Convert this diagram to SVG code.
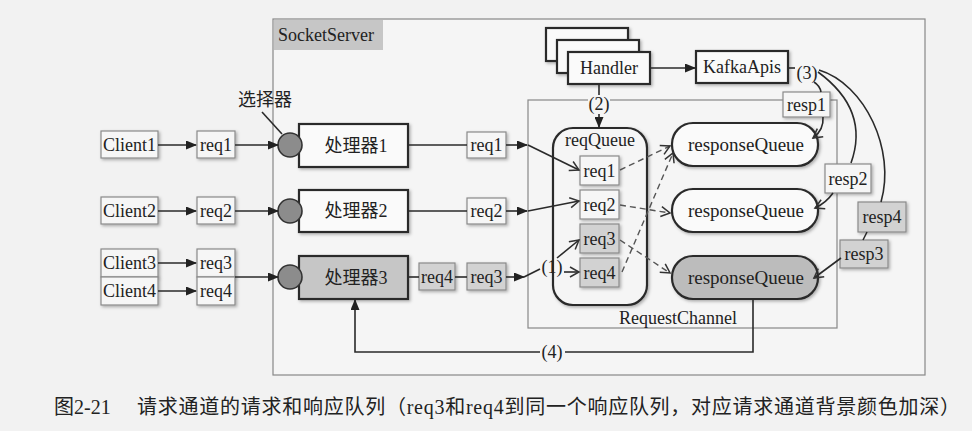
<svg xmlns="http://www.w3.org/2000/svg" width="972" height="431" viewBox="0 0 972 431">
<defs>
<style>
text{font-family:"Liberation Serif","Noto Sans CJK SC",serif;font-size:18px;fill:#222}
.c{text-anchor:middle;dominant-baseline:central}
.small{fill:#f6f6f6;stroke:#8a8a8a;stroke-width:1.2;filter:url(#sh)}
.smallg{fill:#d2d2d2;stroke:#8a8a8a;stroke-width:1.2;filter:url(#sh)}
.proc{fill:#fafafa;stroke:#2a2a2a;stroke-width:2.2;filter:url(#sh)}
.procg{fill:#c6c6c6;stroke:#2a2a2a;stroke-width:2.2;filter:url(#sh)}
.sel{fill:#8c8c8c;stroke:#333;stroke-width:1.6}
.ln{fill:none;stroke:#2a2a2a;stroke-width:1.6}
.dash{fill:none;stroke:#555;stroke-width:1.4;stroke-dasharray:6 4}
.thin{fill:none;stroke:#888;stroke-width:1.2}
</style>
<filter id="sh" x="-20%" y="-30%" width="140%" height="160%">
<feDropShadow dx="1.5" dy="1.5" stdDeviation="1.5" flood-color="#000" flood-opacity="0.3"/>
</filter>
<marker id="tri" markerUnits="userSpaceOnUse" markerWidth="11" markerHeight="9" refX="10" refY="4.5" orient="auto">
<path d="M0,0 L11,4.5 L0,9 z" fill="#222"/>
</marker>
<marker id="vee" markerUnits="userSpaceOnUse" markerWidth="12" markerHeight="12" refX="10" refY="6" orient="auto">
<path d="M1,1 L10,6 L1,11" fill="none" stroke="#333" stroke-width="1.5"/>
</marker>
</defs>
<rect x="0" y="0" width="972" height="431" fill="#f2f2f2"/>

<g id="socketserver">
<rect x="273" y="19" width="652" height="356" fill="#f5f5f5" stroke="#888" stroke-width="1.2"/>
<rect x="274" y="20" width="109" height="30" fill="#c6c6c6"/>
<text x="278" y="41">SocketServer</text>
</g>

<g id="requestchannel">
<rect x="528" y="100" width="309" height="228" class="thin"/>
<text class="c" x="678" y="318">RequestChannel</text>
</g>

<g id="selector-label"><text x="238" y="106">选择器</text></g>

<g id="client1"><rect class="small" x="101" y="131" width="57" height="27"/><text class="c" x="129.5" y="144.5">Client1</text></g>
<g id="client2"><rect class="small" x="101" y="197" width="57" height="27"/><text class="c" x="129.5" y="210.5">Client2</text></g>
<g id="client3"><rect class="small" x="101" y="249" width="57" height="28"/><text class="c" x="129.5" y="263">Client3</text></g>
<g id="client4"><rect class="small" x="101" y="277" width="57" height="28"/><text class="c" x="129.5" y="291">Client4</text></g>

<g id="c-req1"><rect class="small" x="197" y="131" width="38" height="27"/><text class="c" x="216" y="144.5">req1</text></g>
<g id="c-req2"><rect class="small" x="197" y="197" width="38" height="27"/><text class="c" x="216" y="210.5">req2</text></g>
<g id="c-req3"><rect class="small" x="197" y="249" width="38" height="28"/><text class="c" x="216" y="263">req3</text></g>
<g id="c-req4"><rect class="small" x="197" y="277" width="38" height="28"/><text class="c" x="216" y="291">req4</text></g>

<g id="processor1"><rect class="proc" x="299" y="124" width="109" height="43"/><text class="c" x="356" y="145.5">处理器1</text></g>
<g id="processor2"><rect class="proc" x="299" y="190" width="109" height="42"/><text class="c" x="356" y="211">处理器2</text></g>
<g id="processor3"><rect class="procg" x="299" y="256" width="109" height="43"/><text class="c" x="356" y="277.5">处理器3</text></g>

<g id="selector1"><circle class="sel" cx="290" cy="145" r="12"/></g>
<g id="selector2"><circle class="sel" cx="290" cy="211" r="12"/></g>
<g id="selector3"><circle class="sel" cx="290" cy="277" r="12"/></g>

<g id="p-req1"><rect class="small" x="467" y="132" width="39" height="26"/><text class="c" x="486.5" y="145">req1</text></g>
<g id="p-req2"><rect class="small" x="467" y="198" width="39" height="26"/><text class="c" x="486.5" y="211">req2</text></g>
<g id="p-req4"><rect class="smallg" x="419" y="263" width="36" height="27"/><text class="c" x="437" y="276.5">req4</text></g>
<g id="p-req3"><rect class="smallg" x="467" y="263" width="39" height="27"/><text class="c" x="486.5" y="276.5">req3</text></g>

<g id="reqqueue">
<rect class="proc" x="553" y="128" width="94" height="177" rx="20" style="fill:#f5f5f5"/>
<text class="c" x="600" y="140">reqQueue</text>
<rect class="small" x="580" y="156" width="39" height="29"/><text class="c" x="599.5" y="170.5">req1</text>
<rect class="small" x="580" y="190" width="39" height="29"/><text class="c" x="599.5" y="204.5">req2</text>
<rect class="smallg" x="580" y="224" width="39" height="29"/><text class="c" x="599.5" y="238.5">req3</text>
<rect class="smallg" x="580" y="258" width="39" height="29"/><text class="c" x="599.5" y="272.5">req4</text>
</g>

<g id="responsequeue1"><rect class="proc" x="672" y="123" width="146" height="43" rx="21"/><text class="c" x="746" y="144.5" style="font-size:19px">responseQueue</text></g>
<g id="responsequeue2"><rect class="proc" x="672" y="189" width="146" height="43" rx="21"/><text class="c" x="746" y="210.5" style="font-size:19px">responseQueue</text></g>
<g id="responsequeue3"><rect class="procg" x="672" y="256" width="146" height="43" rx="21" style="fill:#bcbcbc"/><text class="c" x="746" y="277.5" style="font-size:19px">responseQueue</text></g>

<g id="handler">
<rect class="proc" x="546" y="28" width="82" height="33"/>
<rect class="proc" x="557" y="40" width="82" height="33"/>
<rect class="proc" x="568" y="52" width="82" height="32"/>
<text class="c" x="609" y="68">Handler</text>
</g>

<g id="kafkaapis"><rect class="proc" x="696" y="51" width="92" height="32"/><text class="c" x="742" y="67">KafkaApis</text></g>

<g id="resp1"><rect class="small" x="783" y="92" width="47" height="25"/><text class="c" x="806.5" y="104.5">resp1</text></g>
<g id="resp2"><rect class="small" x="825" y="164" width="46" height="29"/><text class="c" x="848" y="178.5">resp2</text></g>
<g id="resp4"><rect class="smallg" x="858" y="202" width="48" height="30"/><text class="c" x="882" y="217">resp4</text></g>
<g id="resp3"><rect class="smallg" x="840" y="240" width="48" height="28"/><text class="c" x="864" y="254">resp3</text></g>

<g id="connectors">
<line class="ln" x1="158" y1="145" x2="196" y2="145" marker-end="url(#tri)"/>
<line class="ln" x1="158" y1="211" x2="196" y2="211" marker-end="url(#tri)"/>
<line class="ln" x1="158" y1="263" x2="196" y2="263" marker-end="url(#tri)"/>
<line class="ln" x1="158" y1="291" x2="196" y2="291" marker-end="url(#tri)"/>
<line class="ln" x1="235" y1="145" x2="278" y2="145" marker-end="url(#tri)"/>
<line class="ln" x1="235" y1="211" x2="278" y2="211" marker-end="url(#tri)"/>
<line class="ln" x1="235" y1="277" x2="278" y2="277" marker-end="url(#tri)"/>
<line class="ln" x1="262" y1="112" x2="282" y2="134" stroke-width="1.2"/>
<line class="ln" x1="408" y1="145" x2="467" y2="145"/>
<line class="ln" x1="408" y1="211" x2="467" y2="211"/>
<line class="ln" x1="408" y1="277" x2="419" y2="277"/>
<line class="ln" x1="455" y1="277" x2="467" y2="277"/>
<line class="ln" x1="506" y1="145" x2="527" y2="145" marker-end="url(#tri)"/>
<line class="ln" x1="506" y1="211" x2="527" y2="211" marker-end="url(#tri)"/>
<line class="ln" x1="506" y1="277" x2="524" y2="277" marker-end="url(#tri)"/>
<line class="ln" x1="524" y1="277" x2="540" y2="269" stroke-width="1.3"/>
<line class="ln" x1="528" y1="145" x2="579" y2="170" marker-end="url(#vee)" stroke-width="1.3"/>
<line class="ln" x1="528" y1="211" x2="579" y2="201" marker-end="url(#vee)" stroke-width="1.3"/>
<line class="ln" x1="557" y1="258" x2="579" y2="240" marker-end="url(#vee)" stroke-width="1.3"/>
<line class="ln" x1="564" y1="272" x2="579" y2="272" marker-end="url(#vee)" stroke-width="1.3"/>
<line class="dash" x1="620" y1="170" x2="670" y2="146" marker-end="url(#vee)"/>
<line class="dash" x1="620" y1="205" x2="670" y2="213" marker-end="url(#vee)"/>
<line class="dash" x1="620" y1="240" x2="670" y2="273" marker-end="url(#vee)"/>
<line class="dash" x1="622" y1="272" x2="673" y2="153" marker-end="url(#vee)"/>
<line class="ln" x1="650" y1="68" x2="695" y2="68" marker-end="url(#tri)"/>
<line class="ln" x1="599" y1="84" x2="599" y2="95"/>
<line class="ln" x1="599" y1="114" x2="599" y2="127" marker-end="url(#tri)"/>
<line class="ln" x1="788" y1="68" x2="795" y2="68"/>
<path class="ln" d="M814,82 Q820,86 821,92" stroke-width="1.3"/>
<path class="ln" d="M823,117 Q824,130 813,138" stroke-width="1.3" marker-end="url(#vee)"/>
<path class="ln" d="M818,72 Q870,110 851,163" stroke-width="1.3"/>
<path class="ln" d="M833,193 Q826,203 815,208" stroke-width="1.3" marker-end="url(#vee)"/>
<path class="ln" d="M819,70 C865,84 896,150 881,202" stroke-width="1.3"/>
<line class="ln" x1="867" y1="232" x2="863" y2="240" stroke-width="1.3"/>
<line class="ln" x1="841" y1="258" x2="814" y2="278" stroke-width="1.3" marker-end="url(#vee)"/>
<path class="ln" d="M753,299 L753,352 L565,352"/>
<path class="ln" d="M540,352 L355,352 L355,300" marker-end="url(#tri)"/>
<rect x="588" y="95" width="22" height="19" fill="#f5f5f5"/>
<text class="c" x="599" y="104">(2)</text>
<text class="c" x="807" y="73">(3)</text>
<text class="c" x="552" y="267">(1)</text>
<text class="c" x="552" y="352">(4)</text>
</g>

<g id="caption">
<text x="54" y="414" style="font-size:20px">图2-21</text>
<text x="137" y="414" style="font-size:20px" textLength="823" lengthAdjust="spacing">请求通道的请求和响应队列（req3和req4到同一个响应队列，对应请求通道背景颜色加深）</text>
</g>
</svg>
